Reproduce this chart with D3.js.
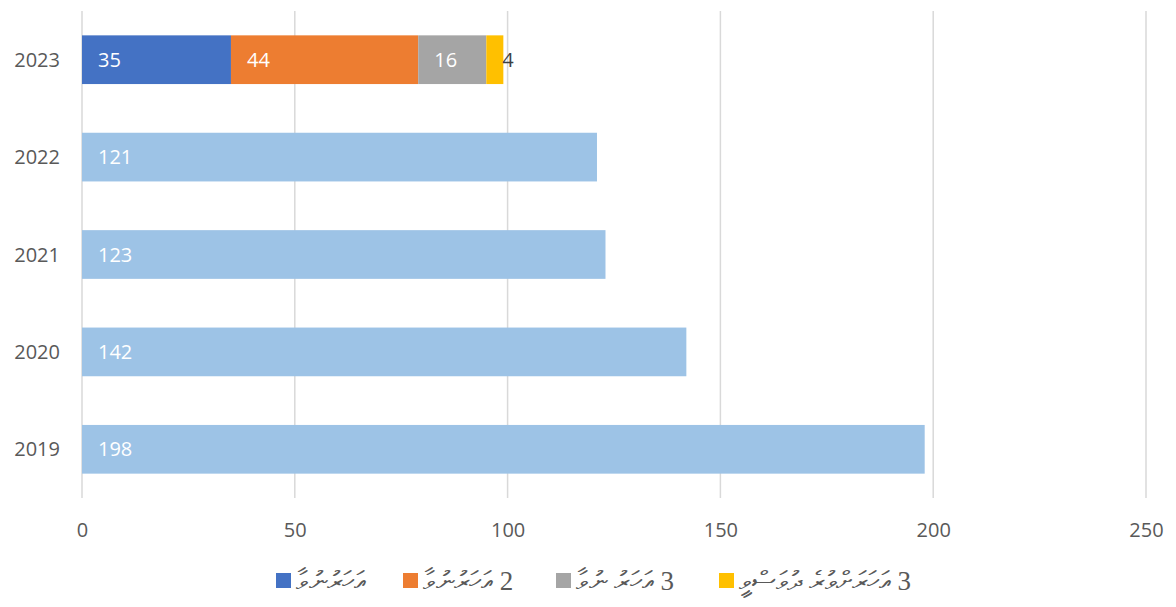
<!DOCTYPE html>
<html>
<head>
<meta charset="utf-8">
<script src="https://cdn.jsdelivr.net/npm/d3@7"></script>
<style>
  body { margin: 0; background: #fff; }
  text { font-family: 'Open Sans', 'Noto Sans', sans-serif; }
</style>
</head>
<body>
<script>
// categories and values
var years = ['2023', '2022', '2021', '2020', '2019'];
var totalYears = ['2022', '2021', '2020', '2019'];
var totals = [121, 123, 142, 198];
var seriesNames = ['އަހަރުނުވާ', '2 އަހަރުނުވާ', '3 އަހަރު ނުވާ', '3 އަހަރަށްވުރެ ދުވަސްވީ'];
var values2023 = [35, 44, 16, 4];
var xTicks = [0, 50, 100, 150, 200, 250];

var colors = ['#4472C4', '#ED7D31', '#A5A5A5', '#FFC000'];
var totalColor = '#9DC3E6';

var width = 1176, height = 607;

var svg = d3.select('body').append('svg')
    .attr('width', width)
    .attr('height', height);

//scales
var xscale = d3.scaleLinear().domain([0, 250]).range([82, 1146]);
var yscale = d3.scaleBand().domain(years).range([11, 498])
    .paddingInner(0.5).paddingOuter(0.25);

//gridlines
svg.append('g')
    .selectAll('line')
    .data(xTicks)
    .enter().append('line')
        .attr('x1', function (d) { return xscale(d); })
        .attr('x2', function (d) { return xscale(d); })
        .attr('y1', 11)
        .attr('y2', 498)
        .style('stroke', '#D9D9D9')
        .style('stroke-width', 1.5);

//x axis
var xaxis = d3.axisBottom(xscale).tickValues(xTicks).tickSize(0).tickPadding(0);
var gx = svg.append('g')
    .attr('transform', 'translate(0, 537)')
    .call(xaxis);
gx.select('.domain').remove();
gx.selectAll('text')
    .attr('dy', 0)
    .attr('font-size', '20px')
    .attr('fill', '#595959');

//y axis
var yaxis = d3.axisLeft(yscale).tickSize(0).tickPadding(0);
var gy = svg.append('g')
    .attr('transform', 'translate(60, 0)')
    .call(yaxis);
gy.select('.domain').remove();
gy.selectAll('text')
    .attr('font-size', '20px')
    .attr('dy', '0.35em')
    .attr('fill', '#595959');

//single-total bars
svg.append('g')
    .selectAll('rect')
    .data(totals)
    .enter().append('rect')
        .attr('x', xscale(0))
        .attr('y', function (d, i) { return yscale(totalYears[i]); })
        .attr('width', function (d) { return xscale(d) - xscale(0); })
        .attr('height', yscale.bandwidth())
        .style('fill', totalColor);

svg.append('g')
    .selectAll('text')
    .data(totals)
    .enter().append('text')
        .attr('x', xscale(0) + 16)
        .attr('y', function (d, i) { return yscale(totalYears[i]) + yscale.bandwidth() / 2; })
        .attr('dy', '0.35em')
        .attr('font-size', '20px')
        .attr('fill', '#fff')
        .text(function (d) { return d; });

//stacked 2023 bar
var starts = [], acc = 0;
values2023.forEach(function (v) { starts.push(acc); acc += v; });

svg.append('g')
    .selectAll('rect')
    .data(values2023)
    .enter().append('rect')
        .attr('x', function (d, i) { return xscale(starts[i]); })
        .attr('y', yscale('2023'))
        .attr('width', function (d) { return xscale(d) - xscale(0); })
        .attr('height', yscale.bandwidth())
        .style('fill', function (d, i) { return colors[i]; });

svg.append('g')
    .selectAll('text')
    .data(values2023)
    .enter().append('text')
        .attr('x', function (d, i) { return xscale(starts[i]) + 16; })
        .attr('y', yscale('2023') + yscale.bandwidth() / 2)
        .attr('dy', '0.35em')
        .attr('font-size', '20px')
        .attr('fill', function (d, i) { return i == 3 ? '#404040' : '#fff'; })
        .text(function (d) { return d; });

//legend
var legendX = [276, 403, 556, 719];
var legend = svg.append('g')
    .selectAll('g')
    .data(seriesNames)
    .enter().append('g')
        .attr('transform', function (d, i) { return 'translate(' + legendX[i] + ', 573)'; });

legend.append('rect')
    .attr('width', 15)
    .attr('height', 15)
    .style('fill', function (d, i) { return colors[i]; });

legend.append('text')
    .attr('x', 20)
    .attr('y', 8)
    .attr('dy', '0.35em')
    .attr('direction', 'rtl')
    .attr('text-anchor', 'end')
    .style('font-family', "'Liberation Serif', serif")
    .attr('font-size', '27px')
    .attr('fill', '#595959')
    .text(function (d) { return d; });
</script>
</body>
</html>
